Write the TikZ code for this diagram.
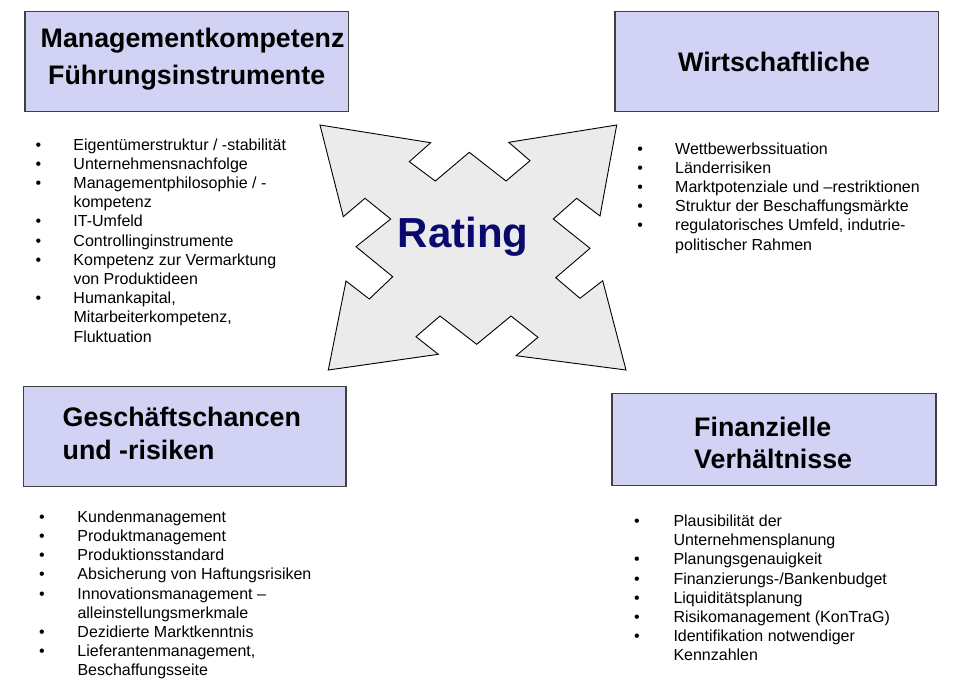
\documentclass[tikz,border=0pt]{standalone}
\usepackage{fontspec}
\setmainfont{Liberation Sans}
\usepackage{array}
\definecolor{boxfill}{RGB}{210,210,245}
\definecolor{boxline}{RGB}{64,64,64}
\definecolor{starfill}{RGB}{235,235,235}
\definecolor{ratingblue}{RGB}{10,10,110}
\begin{document}
\begin{tikzpicture}[x=1pt,y=-1pt,
  catbox/.style={draw=boxline,fill=boxfill,line width=1.3pt,inner sep=0pt},
  cattitle/.style={anchor=base west,inner sep=0pt,font=\fontsize{26.8}{30}\selectfont\bfseries},
  bulletlist/.style={anchor=base west,inner sep=0pt,font=\fontsize{16}{19.2}\selectfont},
  starshape/.style={draw=black,fill=starfill,line width=0.9pt,line join=miter}
]
\useasboundingbox (0,0) rectangle (965,690);
\fill[white] (0,0) rectangle (965,690);

% boxes
\node[catbox,minimum width=323.3pt,minimum height=100pt] (b1) at (186.65,61.7) {};
\node[catbox,minimum width=323.3pt,minimum height=100pt] (b2) at (776.65,61.7) {};
\node[catbox,minimum width=322.7pt,minimum height=100pt] (b3) at (184.65,436.7) {};
\node[catbox,minimum width=324pt,minimum height=92pt] (b4) at (774,439.5) {};

% titles
\node[cattitle] (t1a) at (40.5,47.3) {Managementkompetenz};
\node[cattitle] (t1b) at (48,85) {Führungsinstrumente};
\node[cattitle] (t2) at (678,71.7) {Wirtschaftliche};
\node[cattitle] (t3a) at (62.5,426.7) {Geschäftschancen};
\node[cattitle] (t3b) at (62.5,459.5) {und -risiken};
\node[cattitle] (t4a) at (694,436) {Finanzielle};
\node[cattitle] (t4b) at (694,468.5) {Verhältnisse};

% central star
\draw[starshape] (320,125) -- (430.7,142.7) -- (409.3,161.7) -- (435.3,181) -- (469.3,152.3)
  -- (506,181) -- (530,160.7) -- (508.7,142.3) -- (616.7,125)
  -- (600,216) -- (576.7,198.3) -- (553.3,219) -- (590,248.3) -- (555.7,277.7)
  -- (580,298.3) -- (602.7,280.7) -- (626,370)
  -- (516,355.7) -- (538,337.3) -- (511,316) -- (476.7,344.3) -- (440,316)
  -- (416,336.7) -- (438.3,354.3) -- (328.3,370)
  -- (346,281) -- (369.3,299) -- (392.7,276.7) -- (356,246.7) -- (390.7,219)
  -- (365,198.3) -- (343.3,216.7) -- cycle;
\node[font=\fontsize{42}{48}\selectfont\bfseries,text=ratingblue,inner sep=0pt] (rating) at (463,237) {Rating};

% lists
\node[bulletlist] (l1) at (35.5,150) {\begin{tabular}[t]{@{}p{37.8pt}@{}l@{}}
• & Eigentümerstruktur / -stabilität\\
• & Unternehmensnachfolge\\
• & Managementphilosophie / -\\
  & kompetenz\\
• & IT-Umfeld\\
• & Controllinginstrumente\\
• & Kompetenz zur Vermarktung\\
  & von Produktideen\\
• & Humankapital,\\
  & Mitarbeiterkompetenz,\\
  & Fluktuation
\end{tabular}};

\node[bulletlist] (l2) at (637.2,154) {\begin{tabular}[t]{@{}p{37.8pt}@{}l@{}}
• & Wettbewerbssituation\\
• & Länderrisiken\\
• & Marktpotenziale und –restriktionen\\
• & Struktur der Beschaffungsmärkte\\
• & regulatorisches Umfeld, indutrie-\\
  & politischer Rahmen
\end{tabular}};

\node[bulletlist] (l3) at (38.9,522.3) {\begin{tabular}[t]{@{}p{38.4pt}@{}l@{}}
• & Kundenmanagement\\
• & Produktmanagement\\
• & Produktionsstandard\\
• & Absicherung von Haftungsrisiken\\
• & Innovationsmanagement –\\
  & alleinstellungsmerkmale\\
• & Dezidierte Marktkenntnis\\
• & Lieferantenmanagement,\\
  & Beschaffungsseite
\end{tabular}};

\node[bulletlist] (l4) at (633.9,526.5) {\begin{tabular}[t]{@{}p{39.4pt}@{}l@{}}
• & Plausibilität der\\
  & Unternehmensplanung\\
• & Planungsgenauigkeit\\
• & Finanzierungs-/Bankenbudget\\
• & Liquiditätsplanung\\
• & Risikomanagement (KonTraG)\\
• & Identifikation notwendiger\\
  & Kennzahlen
\end{tabular}};
\end{tikzpicture}
\end{document}
